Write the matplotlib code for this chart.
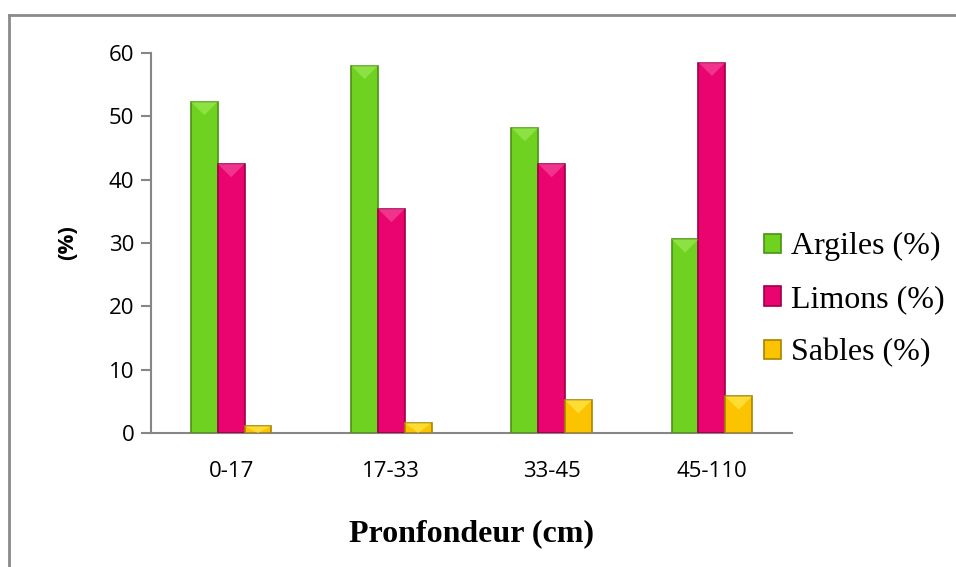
import matplotlib.pyplot as plt
import numpy as np
from matplotlib.lines import Line2D

depths = ['0-17', '17-33', '33-45', '45-110']
argiles = [52.3, 58.0, 48.2, 30.6]
limons = [42.5, 35.4, 42.5, 58.5]
sables = [1.1, 1.6, 5.2, 5.8]

series = [('Argiles (%)', argiles, '#70d220', '#4a9312', '#a6f060'),
          ('Limons (%)', limons, '#ea0470', '#9c0048', '#fa5aa6'),
          ('Sables (%)', sables, '#fcc400', '#a88300', '#fff060')]

fig = plt.figure(figsize=(9.56, 5.67), dpi=100)
ax = fig.add_axes([151 / 956, 1 - 433 / 567, 641 / 956, 380 / 567])

x = np.arange(len(depths))
w = 0.167
# pixel aspect of the axes, used to make the bevel triangle look square
asp = (641 / 4) / (380 / 60)
for i, (name, vals, col, edge, light) in enumerate(series):
    bars = ax.bar(x + (i - 1) * w, vals, w, color=col, edgecolor=edge,
                  linewidth=1.2, label=name, zorder=3)
    for b in bars:
        x0, bw, h = b.get_x(), b.get_width(), b.get_height()
        d = min(bw / 2 * asp, h)
        ax.fill([x0, x0 + bw, x0 + bw / 2], [h, h, h - d], color=light,
                alpha=0.55, lw=0, zorder=4)

ax.set_xlim(-0.5, len(depths) - 0.5)
ax.set_ylim(0, 60)
ax.set_yticks(range(0, 61, 10))
ax.set_xticks(x)
ax.set_xticklabels(depths)

for s in ['top', 'right']:
    ax.spines[s].set_visible(False)
for s in ['left', 'bottom']:
    ax.spines[s].set_color('#868686')
    ax.spines[s].set_linewidth(1.5)
ax.tick_params(axis='y', length=7, width=1.5, color='#868686', labelsize=16,
               pad=5)
ax.tick_params(axis='x', length=0, labelsize=16, pad=20)
for lab in ax.get_xticklabels() + ax.get_yticklabels():
    lab.set_fontfamily('Open Sans')

ax.set_xlabel('Pronfondeur (cm)', fontfamily='Liberation Serif',
              fontweight='bold', fontsize=23, labelpad=27)
ax.set_ylabel('(%)', fontfamily='Open Sans', fontweight='bold', fontsize=16,
              labelpad=22)

ax.legend(loc='center left', bbox_to_anchor=(0.931, 0.35), frameon=False,
          prop={'family': 'Liberation Serif', 'size': 23}, borderpad=0,
          handlelength=0.55, handleheight=0.55, handletextpad=0.3,
          labelspacing=0.75)

fig.add_artist(Line2D([9 / 956, 9 / 956], [0, 1 - 15 / 567], color='#8a8a8a',
                      lw=2, transform=fig.transFigure))
fig.add_artist(Line2D([9 / 956, 1], [1 - 15 / 567, 1 - 15 / 567],
                      color='#8a8a8a', lw=2, transform=fig.transFigure))

fig.savefig('out.png', dpi=100)
